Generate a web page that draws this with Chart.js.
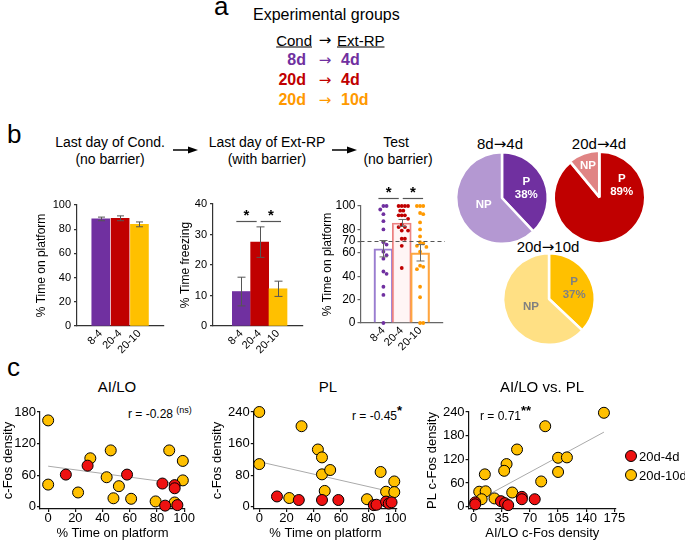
<!DOCTYPE html>
<html>
<head>
<meta charset="utf-8">
<title>Experimental groups</title>
<script src="https://cdn.jsdelivr.net/npm/chart.js@4.4.1/dist/chart.umd.min.js"></script>
<style>
  html, body { margin: 0; padding: 0; background: #fff; overflow: hidden; }
  body { position: relative; width: 685px; height: 542px; font-family: "Liberation Sans", Arial, sans-serif; color: #000; }
  canvas { position: absolute; }
  .t { position: absolute; white-space: nowrap; line-height: 1; }
  .ar { font-family: "DejaVu Sans", sans-serif; font-weight: normal; }
  .dot { position: absolute; width: 10px; height: 10px; border: 1px solid #000; border-radius: 50%; }
</style>
</head>
<body>
<svg width="685" height="542" style="position:absolute;left:0;top:0">
  <line x1="173" y1="150" x2="190" y2="150" stroke="#000" stroke-width="1.5"/>
  <polygon points="188,146.5 198,150 188,153.5" fill="#000"/>
  <line x1="332" y1="150" x2="349" y2="150" stroke="#000" stroke-width="1.5"/>
  <polygon points="347,146.5 357,150 347,153.5" fill="#000"/>
</svg>
<script>
// ---- data ----
const groups = ['8-4', '20-4', '20-10'];

// last day of conditioning, % time on platform
const condMean = [88.5, 89, 84];
const condSem = [1.5, 2, 2];
const pctTicks = [0, 20, 40, 60, 80, 100];

// last day of Ext-RP, % time freezing
const freezeMean = [11.3, 27.5, 12.2];
const freezeSem = [4.7, 5, 2.5];
const freezeTicks = [0, 10, 20, 30, 40];

// test, % time on platform (individual animals)
const testMean = [63.5, 85.5, 60];
const testSem = [7, 3, 7];
const test84 = [100, 100, 97, 93, 87, 80, 69, 67, 61, 58, 55, 44, 42, 31, 24, 0];
const test204 = [100, 100, 100, 100, 96, 96, 92, 92, 92, 89, 84, 82, 82, 79, 79, 72, 72, 66, 47];
const test2010 = [100, 100, 100, 94, 93, 86, 80, 74, 69, 68, 66, 65, 61, 49, 48, 46, 31, 22, 0, 0];
const testTicks = [0, 20, 40, 60, 70, 80, 100];
const sigPairs = [[0, 1], [1, 2]];

// pies: % P / NP
const pieSlices = ['P', 'NP'];
const pie84 = [38, 62];
const pie204 = [89, 11];
const pie2010 = [37, 63];

// c-Fos scatter: [x, y]
const ailoRed = [[13, 61], [29, 78], [58, 61], [84, 44], [93, 41], [93, 35], [86, 2], [95, 3]];
const ailoYellow = [[0, 164], [0, 42], [22, 27], [31, 92], [46, 107], [43, 56], [48, 16], [52, 39], [61, 15], [79, 10], [89, 107], [99, 87], [99, 50], [93, 8]];
const ailoTrend = [[0, 77], [98, 43]];
const plRed = [[13, 26], [29, 17], [46, 17], [58, 17], [84, 4], [86, 5], [93, 13], [95, 8], [97, 11]];
const plYellow = [[0, 240], [0, 108], [31, 204], [43, 145], [46, 125], [46, 82], [52, 93], [48, 40], [22, 22], [79, 19], [89, 88], [99, 64], [93, 38], [99, 37]];
const plTrend = [[0, 114], [99, 36]];
const aiplRed = [[2, 11], [2, 6], [34, 14], [39, 9], [43, 4], [60, 25], [60, 19], [76, 19]];
const aiplYellow = [[162, 238], [89, 204], [54, 145], [41, 108], [38, 91], [14, 82], [105, 124], [116, 125], [105, 88], [84, 64], [48, 36], [7, 38], [15, 39], [10, 19], [26, 21]];
const aiplTrend = [[8, 19], [162, 189]];
const timeTicks = [0, 20, 40, 60, 80, 100];
const ailoTicks = [0, 60, 120, 180];
const plTicks = [0, 80, 160, 240];
const plTicks2 = [0, 60, 120, 180, 240];
const ailoXTicks = [0, 35, 70, 105, 140, 175];

// ---- setup ----
const FONT = '"Liberation Sans", Arial, Helvetica, sans-serif';
Chart.defaults.font.family = FONT;
Chart.defaults.color = '#000';
Chart.defaults.animation = false;
Chart.defaults.responsive = false;
Chart.defaults.events = [];
Chart.defaults.plugins.legend.display = false;
Chart.defaults.plugins.tooltip.enabled = false;

const PURPLE = '#7030a0', RED = '#c00000', YELLOW = '#ffc000', ORANGE = '#ff9900';
const ARROW = '<span class="ar">&rarr;</span>';

function txt(s, x, y, o) {
    o = o || {};
    const d = document.createElement('div');
    d.className = 't';
    d.innerHTML = s;
    d.style.left = x + 'px';
    d.style.top = y + 'px';
    d.style.fontSize = (o.size || 14) + 'px';
    if (o.bold) d.style.fontWeight = 'bold';
    if (o.color) d.style.color = o.color;
    if (o.underline) d.style.textDecoration = 'underline';
    const tx = o.align === 'left' ? '0' : o.align === 'right' ? '-100%' : '-50%';
    d.style.transform = 'translate(' + tx + ', -50%)';
    document.body.appendChild(d);
    return d;
}

// f: plot area x0,x1,y0,y1 in page px, yTitleX, bottom, pt, pr
function frame(f) {
    f.left = f.yTitleX - 12;
    f.yw = f.x0 - f.left;
    f.xh = f.bottom - f.y1;
    const c = document.createElement('canvas');
    c.width = Math.round(f.x1 + f.pr - f.left);
    c.height = Math.round(f.bottom - (f.y0 - f.pt));
    c.style.left = f.left + 'px';
    c.style.top = (f.y0 - f.pt) + 'px';
    document.body.appendChild(c);
    return c;
}

function yAxis(f, o) {
    const lh = o.titleSize * 1.2;
    return {
        type: 'linear', position: 'left', min: o.min, max: o.max,
        afterBuildTicks: a => { a.ticks = o.ticks.map(v => ({ value: v })); },
        afterFit: a => { a.width = f.yw; },
        border: { color: o.color, width: o.lw },
        grid: { drawOnChartArea: false, color: o.color, lineWidth: o.lw, tickLength: o.tick },
        ticks: { font: { size: o.tickSize, lineHeight: 1 }, padding: o.pad, color: '#000', autoSkip: false },
        title: { display: true, text: o.title, color: '#000', font: { size: o.titleSize, lineHeight: 1.2 },
                 padding: { top: f.yTitleX - f.left - lh / 2, bottom: 0 } }
    };
}

function xAxis(f, o) {
    const ax = {
        type: 'linear', position: 'bottom', min: o.min, max: o.max,
        afterBuildTicks: a => { a.ticks = o.ticks.map(v => ({ value: v })); },
        afterFit: a => { a.height = f.xh; },
        border: { color: o.color, width: o.lw },
        grid: { display: !!o.tick, drawOnChartArea: false, color: o.color, lineWidth: o.lw, tickLength: o.tick || 0 },
        ticks: { font: { size: o.tickSize, lineHeight: 1 }, padding: o.pad, color: '#000', autoSkip: false,
                 minRotation: o.rot || 0, maxRotation: o.rot || 0 }
    };
    if (o.labels) ax.ticks.callback = v => o.labels[v];
    if (o.title) {
        const lh = o.titleSize * 1.2;
        ax.title = { display: true, text: o.title, color: '#000', font: { size: o.titleSize, lineHeight: 1.2 },
                     padding: { top: 0, bottom: f.bottom - f.xTitleY - lh / 2 } };
    }
    return ax;
}

function errorBars(means, sems, color, cap) {
    return {
        id: 'errorBars',
        afterDatasetsDraw(chart) {
            const { ctx, scales: { x, y } } = chart;
            ctx.save();
            ctx.strokeStyle = color;
            ctx.lineWidth = 1;
            means.forEach((m, i) => {
                const px = Math.round(x.getPixelForValue(i)) + 0.5;
                const t = y.getPixelForValue(m + sems[i]);
                const b = y.getPixelForValue(m - sems[i]);
                ctx.beginPath();
                ctx.moveTo(px, t); ctx.lineTo(px, b);
                ctx.moveTo(px - cap, t); ctx.lineTo(px + cap, t);
                ctx.moveTo(px - cap, b); ctx.lineTo(px + cap, b);
                ctx.stroke();
            });
            ctx.restore();
        }
    };
}

function sigBars(pairs, yVal) {
    return {
        id: 'sigBars',
        afterDraw(chart) {
            const { ctx, scales: { x, y } } = chart;
            const py = Math.round(y.getPixelForValue(yVal)) + 0.5;
            ctx.save();
            ctx.strokeStyle = '#555';
            ctx.lineWidth = 1.2;
            ctx.fillStyle = '#000';
            ctx.font = 'bold 15px ' + FONT;
            ctx.textAlign = 'center';
            ctx.textBaseline = 'middle';
            pairs.forEach(([a, b], k) => {
                const xa = x.getPixelForValue(a) + (k === 0 ? -5 : 1);
                const xb = x.getPixelForValue(b) + (k === 0 ? -3 : 3);
                ctx.beginPath(); ctx.moveTo(xa, py); ctx.lineTo(xb, py); ctx.stroke();
                ctx.fillText('*', (xa + xb) / 2, py - 6);
            });
            ctx.restore();
        }
    };
}

// ---- panel a ----
txt('a', 214, 6, { size: 26, align: 'left' });
txt('Experimental groups', 253, 15, { size: 16, align: 'left' });
txt('Cond', 312, 40, { size: 15, align: 'right', underline: true });
txt(ARROW, 325, 40, { size: 15 });
txt('Ext-RP', 337, 40, { size: 15, align: 'left', underline: true });
[['8d', '4d', PURPLE, 60], ['20d', '4d', RED, 80], ['20d', '10d', ORANGE, 100]].forEach(r => {
    txt(r[0], 306, r[3], { size: 16, bold: true, color: r[2], align: 'right' });
    txt(ARROW, 325, r[3], { size: 15, color: r[2] });
    txt(r[1], 341, r[3], { size: 16, bold: true, color: r[2], align: 'left' });
});

// ---- panel b ----
txt('b', 7, 134, { size: 26, align: 'left' });
txt('Last day of Cond.', 110, 142);
txt('(no barrier)', 110, 159);
txt('Last day of Ext-RP', 267, 142);
txt('(with barrier)', 267, 159);
txt('Test', 396, 142);
txt('(no barrier)', 398, 159);

// conditioning bars
const fb1 = { x0: 77, x1: 164, y0: 205, y1: 326, yTitleX: 42, bottom: 360, pt: 10, pr: 8 };
new Chart(frame(fb1), {
    type: 'bar',
    data: { datasets: [{ data: condMean.map((v, i) => ({ x: i, y: v })), backgroundColor: [PURPLE, RED, YELLOW], borderWidth: 0, barThickness: 18 }] },
    options: {
        layout: { padding: { top: fb1.pt, right: fb1.pr } },
        scales: {
            x: xAxis(fb1, { min: -0.48, max: 2.52, ticks: [0, 1, 2], labels: groups, color: '#333', lw: 1.2, tickSize: 11, pad: 2, rot: 45 }),
            y: yAxis(fb1, { min: 0, max: 100, ticks: pctTicks, color: '#333', lw: 1.2, tick: 3, pad: 3, tickSize: 11, titleSize: 12, title: '% Time on platform' })
        }
    },
    plugins: [errorBars(condMean, condSem, '#555', 3.5)]
});

// freezing bars
const fb2 = { x0: 213, x1: 303, y0: 204, y1: 326, yTitleX: 186, bottom: 360, pt: 10, pr: 8 };
new Chart(frame(fb2), {
    type: 'bar',
    data: { datasets: [{ data: freezeMean.map((v, i) => ({ x: i, y: v })), backgroundColor: [PURPLE, RED, YELLOW], borderWidth: 0, barThickness: 18 }] },
    options: {
        layout: { padding: { top: fb2.pt, right: fb2.pr } },
        scales: {
            x: xAxis(fb2, { min: -0.727, max: 2.545, ticks: [0, 1, 2], labels: groups, color: '#333', lw: 1.2, tickSize: 11, pad: 2, rot: 45 }),
            y: yAxis(fb2, { min: 0, max: 40, ticks: freezeTicks, color: '#333', lw: 1.2, tick: 3, pad: 3, tickSize: 11, titleSize: 12, title: '% Time freezing' })
        }
    },
    plugins: [errorBars(freezeMean, freezeSem, '#555', 4), sigBars(sigPairs, 34.4)]
});

// test: bars + individual dots (simple beeswarm)
const ft = { x0: 360, x1: 442, y0: 205.5, y1: 322, yTitleX: 327.5, bottom: 360, pt: 25, pr: 8 };
function swarm(values, gi) {
    const catPx = (ft.x1 - ft.x0) / 3, valPx = (ft.y1 - ft.y0) / 100, d = 4.7;
    const placed = [];
    return values.map(v => {
        const py = v * valPx;
        let off = 0;
        for (let n = 0; n < 40; n++) {
            const cand = n === 0 ? 0 : (n % 2 ? 1 : -1) * Math.ceil(n / 2) * d / 2;
            if (placed.every(p => Math.hypot(p[0] - cand, p[1] - py) >= d - 0.01)) { off = cand; break; }
        }
        placed.push([off, py]);
        return { x: gi + off / catPx, y: v };
    });
}
const dotColors = [PURPLE, RED, ORANGE];
new Chart(frame(ft), {
    type: 'bar',
    data: {
        datasets: [
            ...[test84, test204, test2010].map((vals, gi) => ({
                type: 'scatter', data: swarm(vals, gi), pointRadius: 1.9, pointBackgroundColor: dotColors[gi],
                pointBorderWidth: 0, clip: false
            })),
            { data: testMean.map((v, i) => ({ x: i, y: v })), backgroundColor: ['rgba(255,255,255,0)', 'rgba(255,235,235,0.5)', 'rgba(255,255,255,0)'],
              borderColor: ['#9a7dd0', '#ec8080', '#ffa640'], borderWidth: 1.5, barThickness: 19 }
        ]
    },
    options: {
        layout: { padding: { top: ft.pt, right: ft.pr } },
        scales: {
            x: xAxis(ft, { min: -0.5, max: 2.5, ticks: [0, 1, 2], labels: groups, color: '#666', lw: 1.2, tickSize: 11, pad: 2, rot: 45 }),
            y: yAxis(ft, { min: 0, max: 100, ticks: testTicks, color: '#666', lw: 1.2, tick: 3, pad: 2, tickSize: 12, titleSize: 12, title: '% Time on platform' })
        }
    },
    plugins: [
        {
            id: 'cutoff',
            afterDatasetsDraw(chart) {
                const { ctx, scales: { y }, chartArea } = chart;
                const py = Math.round(y.getPixelForValue(70)) + 0.5;
                ctx.save();
                ctx.strokeStyle = '#555'; ctx.lineWidth = 1.2; ctx.setLineDash([4, 3]);
                ctx.beginPath(); ctx.moveTo(chartArea.left, py); ctx.lineTo(chartArea.right + 2, py); ctx.stroke();
                ctx.restore();
            }
        },
        errorBars(testMean, testSem, '#666', 4), sigBars(sigPairs, 107)
    ]
});

// pies
function pieLabels(o) {
    return {
        id: 'pieLabels',
        afterDatasetsDraw(chart) {
            const ctx = chart.ctx;
            const arcs = chart.getDatasetMeta(0).data;
            const vals = chart.data.datasets[0].data;
            ctx.save();
            ctx.fillStyle = o.color;
            ctx.font = 'bold 11.5px ' + FONT;
            ctx.textAlign = 'center';
            ctx.textBaseline = 'middle';
            arcs.forEach((a, i) => {
                const p = a.getProps(['x', 'y', 'startAngle', 'endAngle', 'outerRadius']);
                const ang = o.angle && o.angle[i] != null ? o.angle[i] * Math.PI / 180 : (p.startAngle + p.endAngle) / 2;
                const rr = p.outerRadius * o.rf[i];
                const lx = p.x + Math.cos(ang) * rr, ly = p.y + Math.sin(ang) * rr;
                if (pieSlices[i] === 'P') {
                    ctx.fillText('P', lx, ly - 6.5);
                    ctx.fillText(vals[i] + '%', lx, ly + 6.5);
                } else {
                    ctx.fillText(pieSlices[i], lx, ly);
                }
            });
            ctx.restore();
        }
    };
}
function pie(cx, cy, r, values, colors, o) {
    const bw = 2.5, off = o.offset || [0, 0];
    const side = 2 * r + bw + Math.max(...off);
    const pad = 4;
    const c = document.createElement('canvas');
    c.width = c.height = Math.round(side + 2 * pad);
    c.style.left = (cx - c.width / 2) + 'px';
    c.style.top = (cy - c.height / 2) + 'px';
    document.body.appendChild(c);
    new Chart(c, {
        type: 'pie',
        data: { labels: pieSlices, datasets: [{ data: values, backgroundColor: colors, borderColor: '#fff', borderWidth: bw, offset: off }] },
        options: { layout: { padding: pad } },
        plugins: [pieLabels(o)]
    });
}
txt('8d' + ARROW + '4d', 500, 144, { size: 15 });
txt('20d' + ARROW + '4d', 599, 144, { size: 15 });
txt('20d' + ARROW + '10d', 548, 247, { size: 15 });
pie(501.5, 197.5, 45.5, pie84, [PURPLE, '#b498d2'], { color: '#fff', rf: [0.57, 0.43] });
pie(599, 197.5, 45.5, pie204, [RED, '#e08484'], { color: '#fff', rf: [0.55, 0.74], angle: [-28, null], offset: [0, 3] });
pie(548.5, 299, 45.5, pie2010, [YELLOW, '#ffe084'], { color: '#808080', rf: [0.6, 0.43] });

// ---- panel c ----
txt('c', 7, 367, { size: 26, align: 'left' });
txt('AI/LO', 117, 386, { size: 15 });
txt('PL', 328, 386, { size: 15 });
txt('AI/LO vs. PL', 542, 386, { size: 15 });
txt('r = -0.28 <sup style="font-size:9px">(ns)</sup>', 128, 413, { size: 12, align: 'left' });
txt('r = -0.45<sup style="font-size:13px;font-weight:bold">*</sup>', 352, 413, { size: 12, align: 'left' });
txt('r = 0.71<sup style="font-size:13px;font-weight:bold">**</sup>', 480, 413, { size: 12, align: 'left' });

function scatter(f, xo, yo, red, yellow, trend) {
    new Chart(frame(f), {
        type: 'scatter',
        data: {
            datasets: [
                { data: red.map(p => ({ x: p[0], y: p[1] })), pointRadius: 5.5, pointBackgroundColor: '#ee1111', pointBorderColor: '#000', pointBorderWidth: 1, clip: false },
                { data: yellow.map(p => ({ x: p[0], y: p[1] })), pointRadius: 5.5, pointBackgroundColor: YELLOW, pointBorderColor: '#000', pointBorderWidth: 1, clip: false },
                { data: trend.map(p => ({ x: p[0], y: p[1] })), showLine: true, pointRadius: 0, borderColor: '#aaa', borderWidth: 1 }
            ]
        },
        options: {
            layout: { padding: { top: f.pt, right: f.pr } },
            scales: { x: xAxis(f, xo), y: yAxis(f, yo) }
        }
    });
}
const axStyle = { color: '#111', lw: 1.2, tick: 3, tickSize: 13, titleSize: 13 };
const fs1 = { x0: 40, x1: 185, y0: 411.7, y1: 509, yTitleX: 8, xTitleY: 533.5, bottom: 546, pt: 10, pr: 12 };
scatter(fs1,
    { ...axStyle, min: -6, max: 100.6, ticks: timeTicks, pad: 0, title: '% Time on platform' },
    { ...axStyle, min: -4.4, max: 180, ticks: ailoTicks, pad: 1, title: 'c-Fos density' },
    ailoRed, ailoYellow, ailoTrend);
const fs2 = { x0: 253.5, x1: 397, y0: 411.7, y1: 509, yTitleX: 216.7, xTitleY: 533.5, bottom: 546, pt: 10, pr: 12 };
scatter(fs2,
    { ...axStyle, min: -4, max: 101, ticks: timeTicks, pad: 0, title: '% Time on platform' },
    { ...axStyle, min: -5.8, max: 240, ticks: plTicks, pad: 1, title: 'c-Fos density' },
    plRed, plYellow, plTrend);
const fs3 = { x0: 468.3, x1: 616, y0: 411.7, y1: 509, yTitleX: 431.7, xTitleY: 533.5, bottom: 546, pt: 10, pr: 12 };
scatter(fs3,
    { ...axStyle, min: -6.2, max: 177, ticks: ailoXTicks, pad: 0, title: 'AI/LO c-Fos density' },
    { ...axStyle, min: -5.8, max: 240, ticks: plTicks2, pad: 1, title: 'PL c-Fos density' },
    aiplRed, aiplYellow, aiplTrend);

// legend
[['20d-4d', '#ee1111', 456], ['20d-10d', YELLOW, 474.5]].forEach(l => {
    const d = document.createElement('div');
    d.className = 'dot';
    d.style.background = l[1];
    d.style.left = '625px';
    d.style.top = (l[2] - 6) + 'px';
    document.body.appendChild(d);
    txt(l[0], 639, l[2], { size: 13, align: 'left' });
});
</script>
</body>
</html>
